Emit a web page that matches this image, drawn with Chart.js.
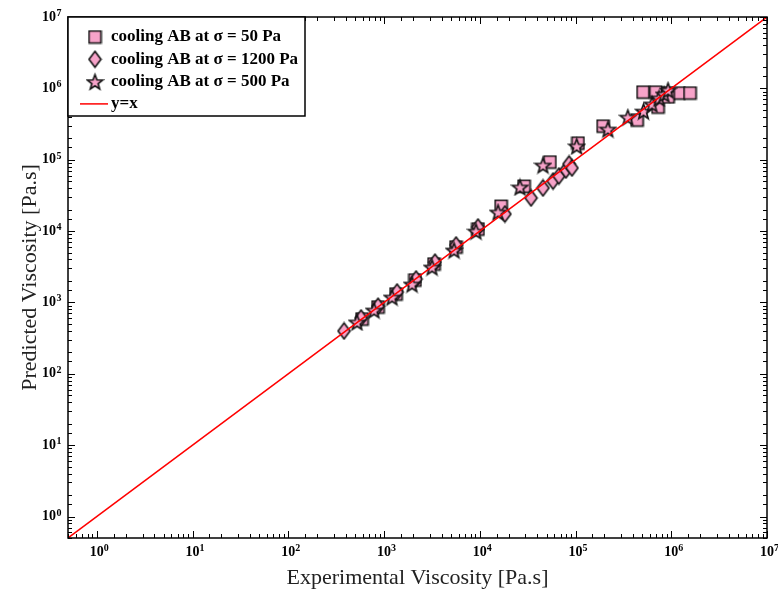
<!DOCTYPE html>
<html lang="en">
<head>
<meta charset="utf-8"/>
<title>Predicted vs Experimental Viscosity</title>
<script src="https://cdn.jsdelivr.net/npm/chart.js"></script>
<style>
  body { margin: 0; background: #fff; }
  #chart { display: block; }
</style>
</head>
<body>
<canvas id="chart" width="778" height="594"></canvas>
<script>
// cooling AB at sigma = 50 Pa (squares)
const sq50X = [589, 865, 1334, 2105, 3327, 5650, 9580, 16700, 29000, 54000, 106000, 194000, 440000, 507000, 690000, 925000, 1200000, 1570000, 727000, 925000];
const sq50Y = [586, 863, 1312, 2061, 3453, 5980, 10690, 22300, 42500, 92900, 171000, 296000, 360000, 887000, 887000, 860000, 860000, 860000, 547000, 759000];

// cooling AB at sigma = 1200 Pa (diamonds)
const dia1200X = [382, 575, 865, 1367, 2158, 3404, 5650, 9580, 18300, 34300, 45700, 58200, 67100, 79400, 85500, 91800];
const dia1200Y = [398, 605, 885, 1400, 2130, 3670, 6380, 11400, 17350, 29100, 40200, 50200, 59100, 71800, 87100, 76600];

// cooling AB at sigma = 500 Pa (stars)
const st500X = [522, 786, 1211, 1960, 3170, 5380, 9120, 15500, 26300, 45700, 103000, 218000, 352000, 513000, 630000, 745000, 840000, 925000];
const st500Y = [532, 783, 1191, 1811, 3133, 5430, 10000, 18500, 41500, 84300, 156000, 269000, 396000, 480000, 604000, 733000, 833000, 948000];

// y = x reference line
const lineX = [0.5, 1e7];
const lineY = [0.5, 1e7];

const axisMin = 0.5;
const axisMax = 1e7;

const PINK = '#f7a3c9';
const SERIF = '"Liberation Serif", "DejaVu Serif", serif';

function pairs(xs, ys) {
  return xs.map((v, i) => ({x: v, y: ys[i]}));
}

function isPow10(v) {
  const e = Math.log10(v);
  return Math.abs(e - Math.round(e)) < 1e-6;
}

// marker images
function markerCanvas(w, h, drawPath) {
  const c = document.createElement('canvas');
  c.width = w; c.height = h;
  const g = c.getContext('2d');
  g.beginPath();
  drawPath(g, w / 2, h / 2);
  g.closePath();
  g.fillStyle = PINK;
  g.fill();
  g.lineWidth = 1.6;
  g.strokeStyle = '#111';
  g.stroke();
  return c;
}

const squareImg = markerCanvas(15, 15, (g, cx, cy) => {
  g.rect(cx - 6, cy - 6, 12, 12);
});
const diamondImg = markerCanvas(15, 19, (g, cx, cy) => {
  g.moveTo(cx, cy - 8);
  g.lineTo(cx + 6, cy);
  g.lineTo(cx, cy + 8);
  g.lineTo(cx - 6, cy);
});
const starImg = markerCanvas(19, 19, (g, cx, cy) => {
  for (let i = 0; i < 10; i++) {
    const r = i % 2 === 0 ? 8 : 3.3;
    const a = -Math.PI / 2 + i * Math.PI / 5;
    const px = cx + r * Math.cos(a), py = cy + 1 + r * Math.sin(a);
    if (i === 0) g.moveTo(px, py); else g.lineTo(px, py);
  }
});

// inward ticks on all four sides + frame
const framePlugin = {
  id: 'frame',
  afterDatasetsDraw(chart) {
    const {ctx, chartArea: a, scales: {x, y}} = chart;
    ctx.save();
    ctx.strokeStyle = '#000';
    ctx.lineWidth = 1;
    ctx.beginPath();
    x.ticks.forEach(t => {
      const px = Math.round(x.getPixelForValue(t.value)) + 0.5;
      const len = isPow10(t.value) ? 7 : 4;
      ctx.moveTo(px, a.bottom); ctx.lineTo(px, a.bottom - len);
      ctx.moveTo(px, a.top); ctx.lineTo(px, a.top + len);
    });
    y.ticks.forEach(t => {
      const py = Math.round(y.getPixelForValue(t.value)) + 0.5;
      const len = isPow10(t.value) ? 7 : 4;
      ctx.moveTo(a.left, py); ctx.lineTo(a.left + len, py);
      ctx.moveTo(a.right, py); ctx.lineTo(a.right - len, py);
    });
    ctx.stroke();
    ctx.lineWidth = 1.5;
    ctx.strokeRect(a.left, a.top, a.right - a.left, a.bottom - a.top);
    ctx.restore();
  }
};

// raised exponents next to the "10" tick labels
const exponentPlugin = {
  id: 'exponents',
  afterDraw(chart) {
    const {ctx, chartArea: a, scales: {x, y}} = chart;
    ctx.save();
    ctx.fillStyle = '#000';
    ctx.font = 'bold 14px ' + SERIF;
    const w10 = ctx.measureText('10').width;
    ctx.font = 'bold 10px ' + SERIF;
    ctx.textAlign = 'left';
    ctx.textBaseline = 'alphabetic';
    for (let p = Math.ceil(Math.log10(axisMin)); p <= Math.log10(axisMax); p++) {
      const px = x.getPixelForValue(Math.pow(10, p));
      ctx.fillText(String(p), px + w10 / 2, a.bottom + 13);
      const py = y.getPixelForValue(Math.pow(10, p));
      ctx.fillText(String(p), a.left - 12 + 0.5, py - 1);
    }
    ctx.restore();
  }
};

// legend box in the upper-left corner of the plot
const legendPlugin = {
  id: 'boxLegend',
  afterDraw(chart) {
    const {ctx, chartArea: a} = chart;
    const left = a.left, top = a.top, w = 237, h = 99;
    ctx.save();
    ctx.fillStyle = '#fff';
    ctx.fillRect(left, top, w, h);
    ctx.lineWidth = 1.5;
    ctx.strokeStyle = '#000';
    ctx.strokeRect(left, top, w, h);

    const rows = [
      {img: squareImg, text: 'cooling AB at \u03c3 = 50 Pa'},
      {img: diamondImg, text: 'cooling AB at \u03c3 = 1200 Pa'},
      {img: starImg, text: 'cooling AB at \u03c3 = 500 Pa'},
      {img: null, text: 'y=x'}
    ];
    ctx.font = 'bold 17px ' + SERIF;
    ctx.textBaseline = 'middle';
    ctx.fillStyle = '#000';
    rows.forEach((r, i) => {
      const cy = top + 20 + i * 22.3;
      if (r.img) {
        ctx.drawImage(r.img, left + 27 - r.img.width / 2, cy - r.img.height / 2);
      } else {
        ctx.strokeStyle = '#ff0000';
        ctx.lineWidth = 1.5;
        ctx.beginPath();
        ctx.moveTo(left + 12, cy);
        ctx.lineTo(left + 40, cy);
        ctx.stroke();
      }
      ctx.fillText(r.text, left + 43, cy);
    });
    ctx.restore();
  }
};

const tickFont = {family: SERIF, size: 14, weight: 'bold'};
const titleFont = {family: SERIF, size: 22};

new Chart(document.getElementById('chart'), {
  type: 'scatter',
  data: {
    datasets: [
      {
        type: 'line',
        label: 'y=x',
        data: pairs(lineX, lineY),
        borderColor: '#ff0000',
        borderWidth: 1.5,
        pointRadius: 0,
        fill: false,
        order: 0
      },
      {
        label: 'cooling AB at \u03c3 = 50 Pa',
        data: pairs(sq50X, sq50Y),
        pointStyle: squareImg,
        order: 3
      },
      {
        label: 'cooling AB at \u03c3 = 1200 Pa',
        data: pairs(dia1200X, dia1200Y),
        pointStyle: diamondImg,
        order: 2
      },
      {
        label: 'cooling AB at \u03c3 = 500 Pa',
        data: pairs(st500X, st500Y),
        pointStyle: starImg,
        order: 1
      }
    ]
  },
  options: {
    responsive: false,
    animation: false,
    layout: {padding: {left: 0, top: 17, right: 11, bottom: 0}},
    plugins: {
      legend: {display: false},
      tooltip: {enabled: false}
    },
    scales: {
      x: {
        type: 'logarithmic',
        min: axisMin,
        max: axisMax,
        border: {display: false},
        grid: {display: false, drawTicks: false},
        ticks: {
          autoSkip: false,
          maxRotation: 0,
          padding: 6,
          color: '#000',
          font: tickFont,
          callback: (v) => isPow10(v) ? '10' : ''
        },
        title: {
          display: true,
          text: 'Experimental Viscosity [Pa.s]',
          color: '#222',
          font: titleFont,
          padding: {top: 0, bottom: 3}
        },
        afterFit: (s) => {
          s.height = 56;
          s.paddingLeft = 0;
          s.paddingRight = 0;
        }
      },
      y: {
        type: 'logarithmic',
        min: axisMin,
        max: axisMax,
        border: {display: false},
        grid: {display: false, drawTicks: false},
        ticks: {
          autoSkip: false,
          padding: 12,
          color: '#000',
          font: tickFont,
          callback: (v) => isPow10(v) ? '10' : ''
        },
        title: {
          display: true,
          text: 'Predicted Viscosity [Pa.s]',
          color: '#222',
          font: titleFont,
          padding: {top: 17, bottom: 0}
        },
        afterFit: (s) => {
          s.width = 68;
          s.paddingTop = 0;
          s.paddingBottom = 0;
        }
      }
    }
  },
  plugins: [framePlugin, exponentPlugin, legendPlugin]
});
</script>
</body>
</html>
